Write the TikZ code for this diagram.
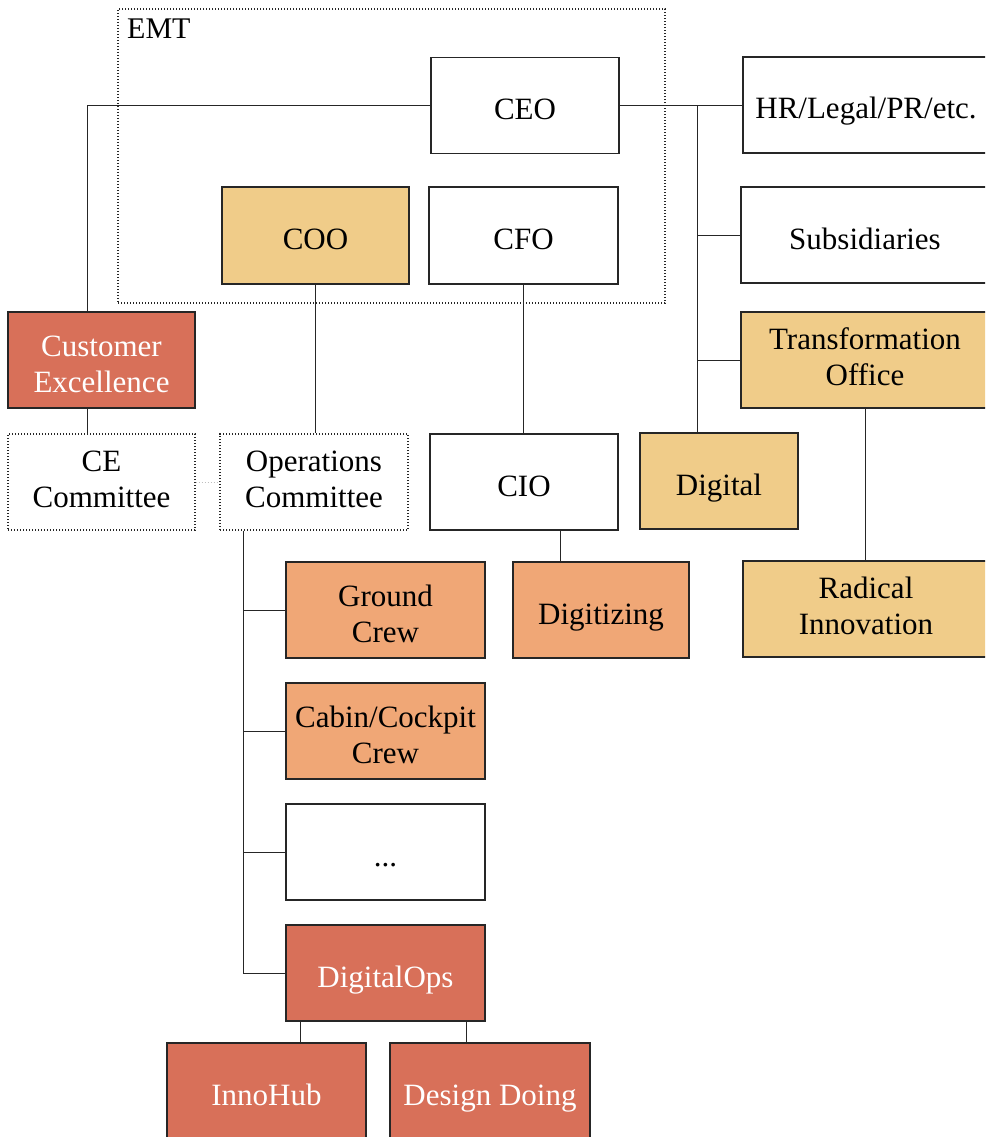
\documentclass[tikz,border=0pt]{standalone}
\usepackage{fontspec}
\setmainfont{Liberation Serif}
\definecolor{gold}{HTML}{F0CC89}
\definecolor{rust}{HTML}{D87059}
\definecolor{peach}{HTML}{F0A776}
\begin{document}
\begin{tikzpicture}[x=1pt,y=-1pt,
  box/.style={draw=black!85, line width=1.4pt, minimum width=#1, minimum height=96pt,
    inner sep=0pt, align=center, font=\fontsize{31}{36}\selectfont,
    text height=35pt, text depth=7pt},
  twoline/.style={text height=57pt},
  lowtext/.style={text height=71pt},
  golden/.style={fill=gold},
  rusty/.style={fill=rust, text=white},
  peachy/.style={fill=peach},
  committee/.style={draw=black!85, line width=1.3pt, dash pattern=on 1.4pt off 1.6pt},
  link/.style={draw=black!85, line width=1pt}]
\useasboundingbox (0,0) rectangle (985,1137);
\clip (0,0) rectangle (985,1137);

% executive management team frame
\node[committee, minimum width=547pt, minimum height=294pt, inner sep=0pt] (emt) at (391.5,156) {};
\node[anchor=base west, inner sep=0pt, font=\fontsize{30}{35}\selectfont] (emtlabel) at (127,39) {EMT};

% top level
\node[box=188pt] (ceo) at (525,105.5) {CEO};
\node[box=246pt] (hr) at (866,105) {HR/Legal/PR/etc.};
\node[box=187pt, golden, minimum height=97pt] (coo) at (315.5,235.5) {COO};
\node[box=189pt, minimum height=97pt] (cfo) at (523.5,235.5) {CFO};
\node[box=248pt] (subs) at (865,235) {Subsidiaries};
\node[box=187pt, rusty, lowtext] (custex) at (101.5,360) {Customer\\Excellence};
\node[box=248pt, golden, twoline] (transf) at (865,360) {Transformation\\Office};

% second level
\node[box=187pt, committee, twoline] (cecom) at (101.5,482) {CE\\Committee};
\node[box=188pt, committee, twoline] (opscom) at (314,482) {Operations\\Committee};
\node[box=188pt] (cio) at (524,482) {CIO};
\node[box=158pt, golden] (digital) at (719,481) {Digital};

% operations units
\node[box=199pt, peachy, lowtext] (ground) at (385.5,610) {Ground\\Crew};
\node[box=176pt, peachy] (digitizing) at (601,610) {Digitizing};
\node[box=246pt, golden, twoline] (radical) at (866,609) {Radical\\Innovation};
\node[box=199pt, peachy, lowtext] (cabin) at (385.5,731) {Cabin/Cockpit\\Crew};
\node[box=199pt] (more) at (385.5,852) {...};
\node[box=199pt, rusty] (digops) at (385.5,973) {DigitalOps};
\node[box=199pt, rusty] (innohub) at (266.5,1091) {InnoHub};
\node[box=200pt, rusty] (design) at (490,1091) {Design Doing};

% connectors
\coordinate (bus) at (697,106);
\coordinate (opsbus) at ([xshift=-71pt]opscom.south);

\draw[link] (ceo.west) -| ([xshift=-14.5pt]custex.north);
\draw[link] ([xshift=-14.5pt]custex.south) -- ([xshift=-14.5pt]cecom.north);
\draw[link] (ceo.east) -- (ceo.east -| hr.west);
\draw[link] (bus) -- (bus |- digital.north);
\draw[link] (bus |- subs.west) -- (subs.west);
\draw[link] (bus |- transf.west) -- (transf.west);
\draw[link] (coo.south) -- (coo.south |- opscom.north);
\draw[link] (cfo.south) -- (cfo.south |- cio.north);
\draw[link] ([xshift=-41pt]digitizing.north) -- ([xshift=-41pt]digitizing.north |- cio.south);
\draw[link] (transf.south) -- (transf.south |- radical.north);
\draw[link] (opsbus) |- (digops.west);
\draw[link] (opsbus |- ground.west) -- (ground.west);
\draw[link] (opsbus |- cabin.west) -- (cabin.west);
\draw[link] (opsbus |- more.west) -- (more.west);
\draw[link] ([xshift=33.5pt]innohub.north) -- ([xshift=33.5pt]innohub.north |- digops.south);
\draw[link] ([xshift=-24pt]design.north) -- ([xshift=-24pt]design.north |- digops.south);
\draw[black!25, line width=0.8pt, dash pattern=on 1pt off 2pt] (cecom.east) -- (opscom.west);
\end{tikzpicture}
\end{document}
